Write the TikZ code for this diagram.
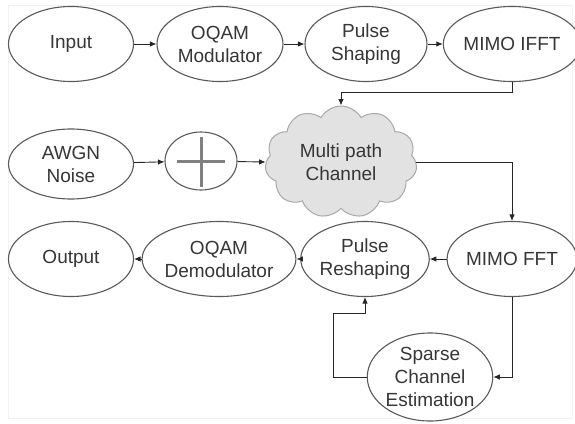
\documentclass[tikz,border=0pt]{standalone}
\usepackage{fontspec}
\setmainfont{Liberation Sans}
\usetikzlibrary{shapes.geometric,shapes.symbols,arrows.meta}
\definecolor{txt}{HTML}{363636}
\definecolor{edge}{HTML}{5A5A5A}
\definecolor{cloudfill}{HTML}{E2E2E2}
\definecolor{cloudline}{HTML}{A8A8A8}
\tikzset{
  blk/.style={ellipse, draw=edge, line width=1.1pt, fill=white, inner sep=0pt,
    align=center, text=txt, font=\fontsize{19}{23}\selectfont},
  arr/.style={draw=black!85, line width=0.9pt, -{Latex[length=6.5pt,width=5.5pt]}},
}
\begin{document}
\begin{tikzpicture}[x=1pt,y=-1pt]
\useasboundingbox (0,0) rectangle (575,423);
% faint page frame
\draw[black!5, line width=1pt] (8,5) rectangle (572,418);

% transmitter chain
\node[blk, minimum width=125pt, minimum height=75pt] (in)   at (71,44)  {Input};
\node[blk, minimum width=126pt, minimum height=75pt] (mod)  at (220,44) {OQAM\\Modulator};
\node[blk, minimum width=122pt, minimum height=75pt] (ps)   at (366,44) {Pulse\\Shaping};
\node[blk, minimum width=123pt, minimum height=75pt] (ifft) at (512,44) {MIMO IFFT};

% channel with additive noise
\node[blk, minimum width=125pt, minimum height=70pt] (awgn) at (71,164)  {AWGN\\Noise};
\node[blk, minimum width=72pt,  minimum height=58pt] (plus) at (201,161) {};
\draw[gray, line width=3pt] ([xshift=-24pt]plus.center) -- ([xshift=24pt]plus.center);
\draw[gray, line width=3pt] ([yshift=24pt]plus.center) -- ([yshift=-26pt]plus.center);
\node[cloud, cloud puffs=11, cloud puff arc=120, aspect=1.35, draw=cloudline,
      fill=cloudfill, line width=1pt, minimum width=152pt, minimum height=112pt,
      inner sep=0pt, align=center, text=txt, font=\fontsize{19}{23}\selectfont]
      (ch) at (341,162) {Multi path\\Channel};

% receiver chain
\node[blk, minimum width=125pt, minimum height=75pt] (out) at (71,259)  {Output};
\node[blk, minimum width=125pt, minimum height=75pt] (dem) at (219,259) {OQAM\\Demodulator};
\node[blk, minimum width=126pt, minimum height=75pt] (prs) at (365,259) {Pulse\\Reshaping};
\node[blk, minimum width=123pt, minimum height=75pt] (fft) at (512,259) {MIMO FFT};
\node[blk, minimum width=125pt, minimum height=88pt] (sce) at (430,377) {Sparse\\Channel\\Estimation};
\coordinate (fb) at (333,313);

% connectors
\draw[arr] (in) -- (mod);
\draw[arr] (mod) -- (ps);
\draw[arr] (ps) -- (ifft);
\draw[arr] (ifft.south) -- ++(0,10.5) -| (ch.north);
\draw[arr] (awgn) -- (plus);
\draw[arr] (plus) -- (ch.west);
\draw[arr] (ch.east) -| (fft.north);
\draw[arr] (fft) -- (prs);
\draw[arr] (prs) -- (dem);
\draw[arr] (dem) -- (out);
\draw[arr] (fft.south) |- (sce.east);
\draw[arr] (sce.west) -| (fb) -| (prs.south);
\end{tikzpicture}
\end{document}
